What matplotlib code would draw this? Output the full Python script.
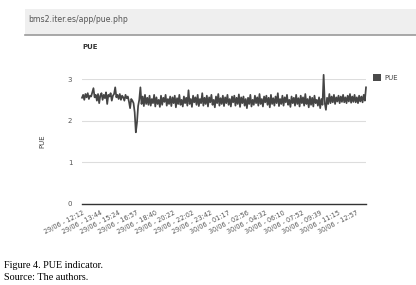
import matplotlib
matplotlib.use("Agg")
import matplotlib.pyplot as plt
from matplotlib.patches import Rectangle

# ---- data ----
tick_labels = ["29/06 - 12:12", "29/06 - 13:44", "29/06 - 15:24", "29/06 - 16:57",
               "29/06 - 18:40", "29/06 - 20:22", "29/06 - 22:02", "29/06 - 23:42",
               "30/06 - 01:17", "30/06 - 02:56", "30/06 - 04:32", "30/06 - 06:10",
               "30/06 - 07:52", "30/06 - 09:39", "30/06 - 11:15", "30/06 - 12:57"]
pue = [
    2.55, 2.62, 2.50, 2.64, 2.56, 2.66, 2.52, 2.60, 2.58, 2.68, 2.78, 2.56, 2.62, 2.48, 2.64, 2.42,
    2.60, 2.66, 2.50, 2.62, 2.54, 2.68, 2.40, 2.62, 2.58, 2.66, 2.48, 2.60, 2.64, 2.80, 2.56, 2.62,
    2.52, 2.64, 2.50, 2.60, 2.56, 2.48, 2.62, 2.54, 2.58, 2.46, 2.30, 2.52, 2.48, 2.42, 2.20, 1.72,
    1.95, 2.35, 2.50, 2.80, 2.40, 2.58, 2.35, 2.62, 2.40, 2.55, 2.38, 2.60, 2.36, 2.52, 2.42, 2.62,
    2.34, 2.56, 2.40, 2.50, 2.33, 2.60, 2.38, 2.55, 2.45, 2.62, 2.36, 2.52, 2.40, 2.58, 2.35, 2.56,
    2.42, 2.60, 2.32, 2.54, 2.40, 2.62, 2.38, 2.50, 2.34, 2.58, 2.42, 2.55, 2.36, 2.73, 2.40, 2.52,
    2.33, 2.60, 2.44, 2.56, 2.38, 2.62, 2.35, 2.52, 2.42, 2.66, 2.36, 2.55, 2.40, 2.60, 2.34, 2.56,
    2.44, 2.62, 2.38, 2.50, 2.32, 2.58, 2.42, 2.64, 2.36, 2.54, 2.40, 2.60, 2.35, 2.56, 2.42, 2.62,
    2.38, 2.52, 2.34, 2.58, 2.44, 2.60, 2.36, 2.55, 2.40, 2.63, 2.33, 2.56, 2.42, 2.58, 2.36, 2.52,
    2.30, 2.55, 2.40, 2.62, 2.34, 2.50, 2.38, 2.60, 2.42, 2.56, 2.36, 2.64, 2.40, 2.52, 2.34, 2.58,
    2.44, 2.60, 2.38, 2.55, 2.32, 2.62, 2.40, 2.54, 2.36, 2.58, 2.42, 2.66, 2.35, 2.52, 2.40, 2.60,
    2.36, 2.56, 2.44, 2.62, 2.38, 2.50, 2.33, 2.58, 2.42, 2.55, 2.36, 2.62, 2.40, 2.54, 2.34, 2.60,
    2.42, 2.56, 2.36, 2.64, 2.40, 2.52, 2.32, 2.58, 2.38, 2.55, 2.34, 2.60, 2.42, 2.50, 2.36, 2.56,
    2.30, 2.52, 2.38, 3.10, 2.42, 2.26, 2.55, 2.40, 2.64, 2.42, 2.58, 2.44, 2.62, 2.40, 2.56, 2.46,
    2.60, 2.42, 2.58, 2.45, 2.62, 2.44, 2.56, 2.42, 2.60, 2.46, 2.64, 2.43, 2.58, 2.45, 2.62, 2.44,
    2.56, 2.42, 2.60, 2.46, 2.58, 2.44, 2.62, 2.48, 2.80,
]
tick_step = 16

# ---- figure ----
W, H = 416, 285
fig = plt.figure(figsize=(W / 100, H / 100), dpi=100)

# browser address bar
fig.patches.append(Rectangle((25 / W, 1 - 35 / H), 1 - 25 / W, 26 / H,
                             transform=fig.transFigure, facecolor="#efefef",
                             edgecolor="none"))
fig.add_artist(plt.Line2D([25 / W, 1], [1 - 35.5 / H, 1 - 35.5 / H],
                          transform=fig.transFigure, color="#9a9a9a", lw=1.2))
fig.text(28 / W, 1 - 19 / H, "bms2.iter.es/app/pue.php", fontsize=5.6,
         color="#555555", va="center", ha="left")

# chart title
fig.text(82 / W, 1 - 47 / H, "PUE", fontsize=5, fontweight="bold",
         color="#333333", va="center", ha="left")

ax = fig.add_axes([82 / W, 1 - 204 / H, (366 - 82) / W, (204 - 79) / H])
x = list(range(len(pue)))
ax.plot(x, pue, color="#454545", lw=1.25, clip_on=False, label="PUE")

ax.set_ylim(0, 3)
ax.set_xlim(0, len(pue) - 1)
ax.set_yticks([0, 1, 2, 3])
ax.set_yticklabels(["0", "1", "2", "3"])
ax.grid(axis="y", color="#dddddd", lw=0.8)
ax.set_axisbelow(True)
for s in ["top", "right", "left"]:
    ax.spines[s].set_visible(False)
ax.spines["bottom"].set_color("#333333")
ax.spines["bottom"].set_linewidth(1.0)
ax.tick_params(axis="y", length=0, pad=7, labelsize=5, labelcolor="#555555")

ticks = [i * tick_step for i in range(len(tick_labels))]
ax.set_xticks(ticks)
ax.set_xticklabels(tick_labels, rotation=27, ha="right", rotation_mode="anchor")
ax.tick_params(axis="x", length=0, pad=4, labelsize=4.7, labelcolor="#555555")

ax.set_ylabel("PUE", fontsize=5, color="#444444", labelpad=16)

# legend
fig.patches.append(Rectangle((373 / W, 1 - 81 / H), 8 / W, 7 / H,
                             transform=fig.transFigure, facecolor="#4a4a4a",
                             edgecolor="none"))
fig.text(384 / W, 1 - 77.5 / H, "PUE", fontsize=5, color="#444444",
         va="center", ha="left")

# caption
fig.text(4 / W, 1 - 266 / H, "Figure 4. PUE indicator.", fontsize=7.3,
         family="Liberation Serif", va="center", ha="left", color="black")
fig.text(4 / W, 1 - 277 / H, "Source: The authors.", fontsize=7.3,
         family="Liberation Serif", va="center", ha="left", color="black")

fig.savefig("out.png", dpi=100)
